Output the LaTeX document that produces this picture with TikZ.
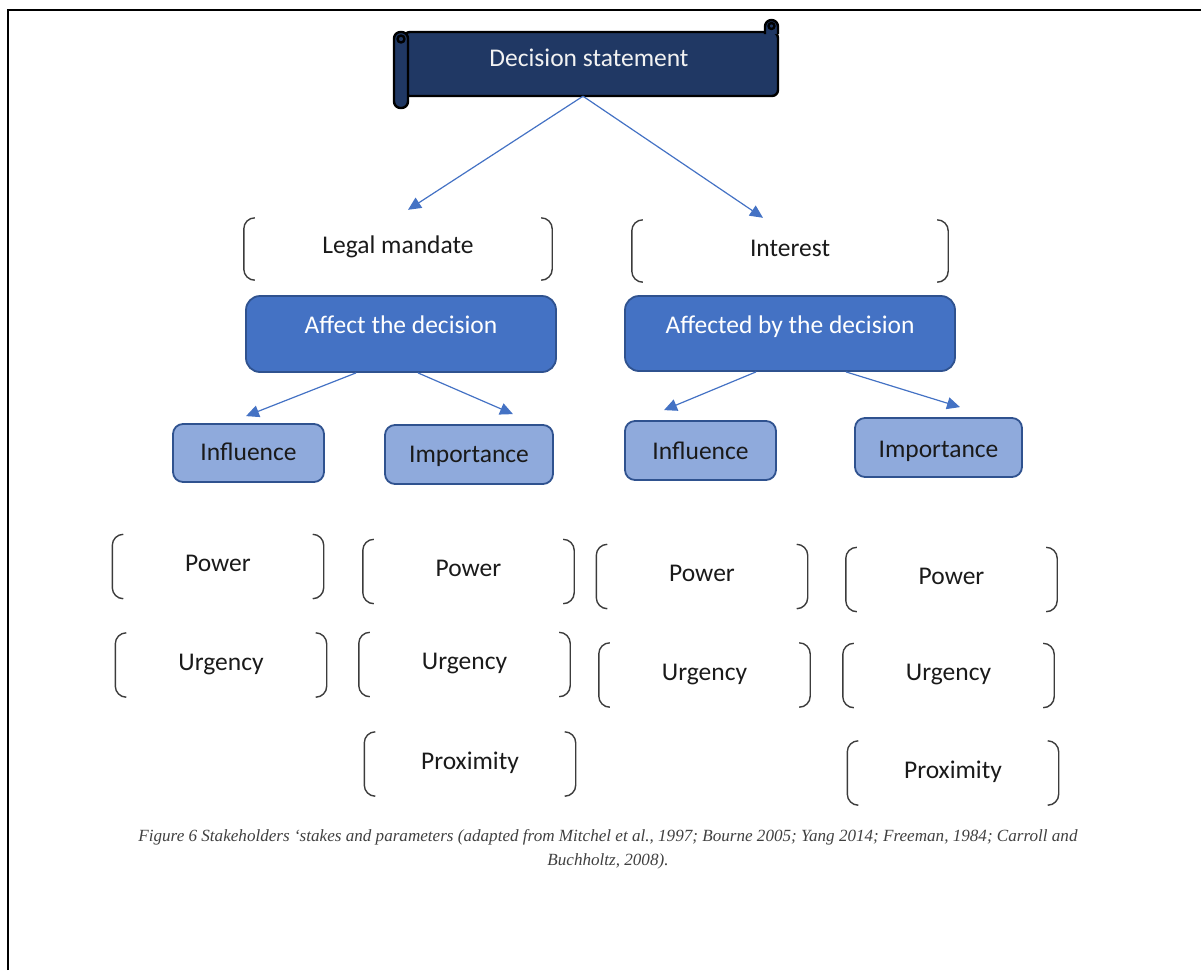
\documentclass[tikz,border=0pt]{standalone}
\usepackage{fontspec}
\setmainfont{Carlito}
\newfontfamily\capfont{Liberation Serif}
\usetikzlibrary{arrows.meta}
\definecolor{navy}{HTML}{203864}
\definecolor{blueA}{HTML}{4472C4}
\definecolor{blueB}{HTML}{8FAADC}
\definecolor{blueline}{HTML}{2F528F}
\definecolor{txt}{HTML}{1A1A1A}
\definecolor{brgrey}{HTML}{3C3C3C}
\definecolor{capgrey}{HTML}{404040}
\newcommand\bracketpair[1]{%
  \draw[brk] ([xshift=11pt]#1.north west) -- (#1.north west) -- (#1.south west) -- ([xshift=11pt]#1.south west);
  \draw[brk] ([xshift=-11pt]#1.north east) -- (#1.north east) -- (#1.south east) -- ([xshift=-11pt]#1.south east);}
\begin{document}
\begin{tikzpicture}[x=1pt,y=-1pt,
  font=\fontsize{25.5}{30}\selectfont,
  lbl/.style={inner sep=0pt, align=center, text=txt},
  brk/.style={draw=brgrey, line width=1.4pt, rounded corners=11pt},
  pbox/.style={lbl, minimum width=211pt, text height=37pt, text depth=27pt},
  bluebox/.style={lbl, fill=blueA, draw=blueline, line width=1.8pt, rounded corners=14pt, text=white},
  lightbox/.style={lbl, fill=blueB, draw=blueline, line width=1.8pt, rounded corners=10pt},
  arr/.style={draw=blueA, line width=1.2pt, -{Triangle[length=13pt,width=12pt]}},
  scroll/.style={fill=navy, draw=black, line width=2.4pt, line join=round},
]
\useasboundingbox (0,0) rectangle (1201,970);
% page frame
\draw[line width=2.5pt] (8,970) -- (8,10) -- (1201,10);

% scroll shape
\draw[scroll, rounded corners=6pt] (404,32) -- (778,32) -- (778,96) -- (404,96) -- cycle;
\draw[scroll, rounded corners=6.5pt] (765,34) -- (765,20) -- (778,20) -- (778,34);
\draw[scroll] (771.5,26) circle (3pt);
\draw[scroll, rounded corners=6.5pt] (394,32) rectangle (408,108);
\draw[scroll] (401,39) circle (3.5pt);
\node[lbl, text=white!95!black, minimum width=360pt, text height=34.5pt, text depth=29.5pt] (dec) at (589,64) {Decision statement};

% stake nodes
\node[lbl, minimum width=308pt, text height=35pt, text depth=27pt] (legal) at (398,249) {Legal mandate};
\node[lbl, minimum width=316pt, text height=36pt, text depth=26pt] (interest) at (790,251) {Interest};
\bracketpair{legal}
\bracketpair{interest}

\node[bluebox, minimum width=310pt, text height=37pt, text depth=39pt] (affect) at (401,334) {Affect the decision};
\node[bluebox, minimum width=330pt, text height=37.5pt, text depth=37.5pt] (affected) at (790,333.5) {Affected by the decision};

\node[lightbox, minimum width=151pt, text height=36pt, text depth=22pt] (inflL) at (248.5,453) {Influence};
\node[lightbox, minimum width=168pt, text height=37pt, text depth=22pt] (impL) at (469,454.5) {Importance};
\node[lightbox, minimum width=151pt, text height=38pt, text depth=21pt] (inflR) at (700.5,450.5) {Influence};
\node[lightbox, minimum width=167pt, text height=39pt, text depth=20pt] (impR) at (938.5,447.5) {Importance};

% arrows
\draw[arr] ([xshift=-6pt]dec.south) -- ([shift={(10pt,8pt)}]legal.north);
\draw[arr] ([xshift=-6pt]dec.south) -- ([shift={(-27pt,2pt)}]interest.north);
\draw[arr] ([xshift=-45pt]affect.south) -- ([shift={(-2.5pt,7pt)}]inflL.north);
\draw[arr] ([xshift=17pt]affect.south) -- ([shift={(44pt,10pt)}]impL.north);
\draw[arr] ([xshift=-34pt]affected.south) -- ([shift={(-36.5pt,10pt)}]inflR.north);
\draw[arr] ([xshift=56pt]affected.south) -- ([shift={(21.5pt,10pt)}]impR.north);

% parameter nodes
\node[pbox] (p1) at (218,566.5) {Power};
\node[pbox] (u1) at (221,665) {Urgency};
\node[pbox] (p2) at (468.5,571.5) {Power};
\node[pbox] (u2) at (464.5,664.5) {Urgency};
\node[pbox] (x2) at (470,764) {Proximity};
\node[pbox] (p3) at (702,576.5) {Power};
\node[pbox] (u3) at (704.5,675) {Urgency};
\node[pbox] (p4) at (951.5,579.5) {Power};
\node[pbox] (u4) at (948.5,675.5) {Urgency};
\node[pbox] (x4) at (953,773) {Proximity};
\foreach \n in {p1,u1,p2,u2,x2,p3,u3,p4,u4,x4} {\bracketpair{\n}}

% caption
\node[inner sep=0pt, align=center, text=capgrey, font=\capfont\itshape\fontsize{17.1}{24}\selectfont] (cap) at (608,849)
  {Figure 6 Stakeholders ‘stakes and parameters (adapted from Mitchel et al., 1997; Bourne 2005; Yang 2014; Freeman, 1984; Carroll and\\ Buchholtz, 2008).};
\end{tikzpicture}
\end{document}
